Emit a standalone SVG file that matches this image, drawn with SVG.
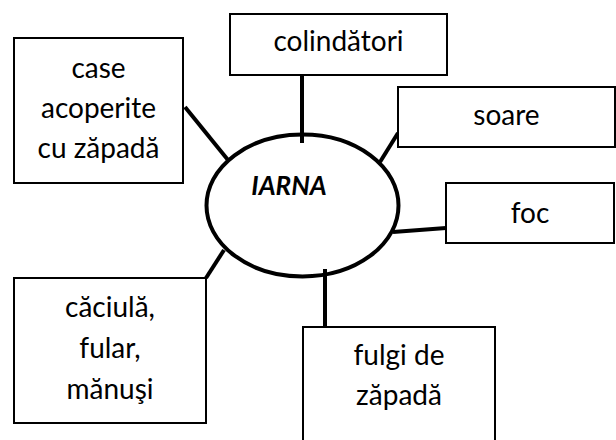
<svg xmlns="http://www.w3.org/2000/svg" width="616" height="440" viewBox="0 0 616 440">
<style>
.box{fill:#fff;stroke:#000;stroke-width:2}
.t{font-family:Lato,"Open Sans","Liberation Sans",sans-serif;font-size:28px;fill:#000;text-anchor:middle}
.conn line{stroke:#000;stroke-width:4}
.c{fill:#fff;stroke:#000;stroke-width:4}
</style>
<rect width="616" height="440" fill="#fff"/>
<g id="connectors" class="conn">
<line x1="302" y1="75" x2="302" y2="143"/>
<line x1="185" y1="107" x2="228" y2="160"/>
<line x1="398" y1="133" x2="380" y2="162"/>
<line x1="393" y1="232" x2="446" y2="228"/>
<line x1="206" y1="278" x2="224" y2="250"/>
<line x1="325" y1="269" x2="325" y2="327"/>
</g>
<g id="center">
<ellipse class="c" cx="302.5" cy="205.5" rx="96" ry="71" fill="none" style="fill:none"/>
<text x="289" y="195" class="t" style="font-weight:bold;font-style:italic;font-size:26px">IARNA</text>
</g>
<g id="case">
<rect class="box" x="14" y="38" width="169" height="145"/>
<text class="t" x="98.5" y="78">case</text>
<text class="t" x="98.5" y="118">acoperite</text>
<text class="t" x="98.5" y="158">cu zăpadă</text>
</g>
<g id="colindatori">
<rect class="box" x="230" y="14" width="217" height="61"/>
<text class="t" x="338.5" y="51">colindători</text>
</g>
<g id="soare">
<rect class="box" x="398" y="87" width="217" height="60"/>
<text class="t" x="506.5" y="125">soare</text>
</g>
<g id="foc">
<rect class="box" x="446" y="183" width="168" height="60"/>
<text class="t" x="530" y="223">foc</text>
</g>
<g id="caciula">
<rect class="box" x="14" y="278" width="192" height="145"/>
<text class="t" x="110" y="317">căciulă,</text>
<text class="t" x="110" y="358">fular,</text>
<text class="t" x="110" y="399">mănuşi</text>
</g>
<g id="fulgi">
<rect class="box" x="303" y="327" width="192" height="120"/>
<text class="t" x="399" y="365">fulgi de</text>
<text class="t" x="399" y="405">zăpadă</text>
</g>
</svg>
